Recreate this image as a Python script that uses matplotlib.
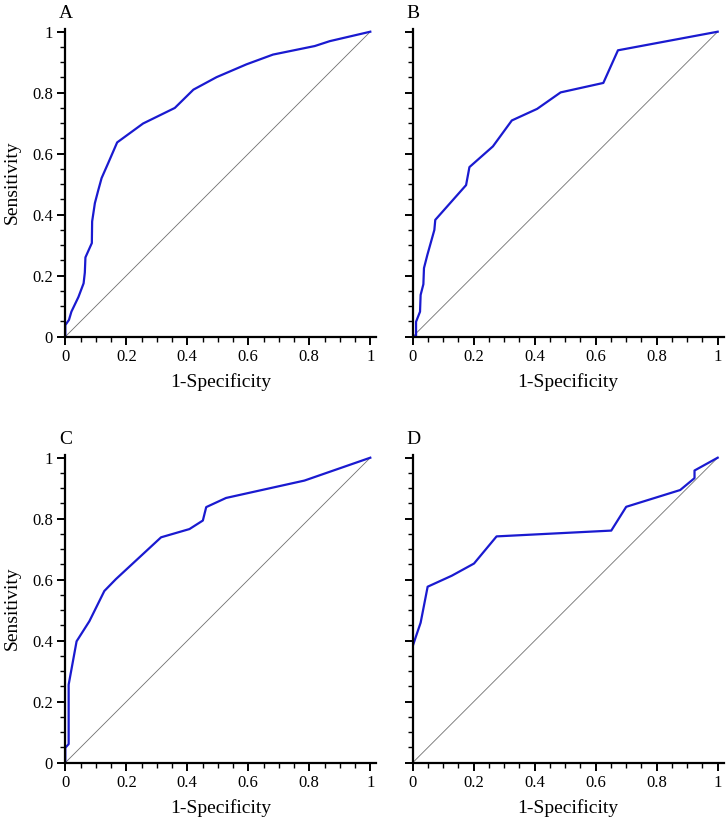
import numpy as np
import matplotlib
matplotlib.use("Agg")
import matplotlib.pyplot as plt
from matplotlib.ticker import MultipleLocator, FormatStrFormatter

plt.rcParams['font.family'] = ['Liberation Serif', 'DejaVu Serif']

# ROC curves: (1-specificity, sensitivity)
a_fpr = [0, 0, 0.012, 0.02, 0.043, 0.06, 0.064, 0.066, 0.087, 0.088, 0.097, 0.108,
         0.119, 0.141, 0.17, 0.255, 0.359, 0.42, 0.496, 0.594, 0.681, 0.818, 0.867, 1]
a_tpr = [0, 0.038, 0.055, 0.082, 0.13, 0.175, 0.21, 0.26, 0.307, 0.378, 0.438, 0.48,
         0.52, 0.57, 0.637, 0.699, 0.75, 0.81, 0.851, 0.893, 0.925, 0.953, 0.969, 1]

b_fpr = [0, 0.011, 0.011, 0.024, 0.026, 0.035, 0.037, 0.048, 0.071, 0.074, 0.175,
         0.186, 0.263, 0.325, 0.408, 0.485, 0.625, 0.673, 1]
b_tpr = [0, 0.002, 0.049, 0.082, 0.137, 0.172, 0.225, 0.268, 0.35, 0.383, 0.497,
         0.556, 0.624, 0.709, 0.747, 0.801, 0.832, 0.939, 1]

c_fpr = [0, 0, 0.011, 0.011, 0.037, 0.079, 0.128, 0.166, 0.314, 0.407, 0.451, 0.462,
         0.527, 0.784, 1]
c_tpr = [0, 0.049, 0.061, 0.256, 0.398, 0.464, 0.563, 0.602, 0.739, 0.766, 0.794, 0.838,
         0.868, 0.925, 1]

d_fpr = [0, 0, 0.011, 0.026, 0.049, 0.128, 0.201, 0.275, 0.651, 0.7, 0.877, 0.924, 0.924, 1]
d_tpr = [0, 0.382, 0.415, 0.459, 0.577, 0.613, 0.653, 0.742, 0.761, 0.839, 0.894, 0.933, 0.958, 1]

panels = [("A", a_fpr, a_tpr), ("B", b_fpr, b_tpr), ("C", c_fpr, c_tpr), ("D", d_fpr, d_tpr)]

W, H = 728, 824
fig = plt.figure(figsize=(W / 100, H / 100), dpi=100)

# axes origin (pixels from left / top) and size of the unit square
origins = [(65.3, 336.7), (412.7, 336.7), (65.3, 762.7), (412.7, 762.7)]
unit = 305.0
xmax, ymax = 1.02, 1.01

for (name, fpr, tpr), (x0, y0) in zip(panels, origins):
    w = unit * xmax
    h = unit * ymax
    ax = fig.add_axes([x0 / W, (H - y0) / H, w / W, h / H])
    ax.plot([0, 1], [0, 1], color="#707070", lw=0.6)
    ax.plot(fpr, tpr, color="#1a1ad0", lw=1.6, solid_joinstyle="round")
    ax.set_xlim(0, xmax)
    ax.set_ylim(0, ymax)
    for s in ["top", "right"]:
        ax.spines[s].set_visible(False)
    for s in ["left", "bottom"]:
        ax.spines[s].set_linewidth(1.6)
    ax.xaxis.set_major_locator(MultipleLocator(0.2))
    ax.yaxis.set_major_locator(MultipleLocator(0.2))
    ax.xaxis.set_minor_locator(MultipleLocator(0.05))
    ax.yaxis.set_minor_locator(MultipleLocator(0.05))
    ax.xaxis.set_major_formatter(FormatStrFormatter("%g"))
    ax.yaxis.set_major_formatter(FormatStrFormatter("%g"))
    ax.tick_params(which="major", direction="out", length=6, width=1.4, labelsize=12, pad=3)
    ax.tick_params(which="minor", direction="out", length=3.6, width=1.0)
    if name in ("B", "D"):
        ax.tick_params(axis="y", which="both", labelleft=False)
    else:
        ax.set_ylabel("Sensitivity", fontsize=14, labelpad=8)
    ax.set_xlabel("1-Specificity", fontsize=14, labelpad=6)
    ax.text(-0.02, 1.034, name, transform=ax.transAxes, fontsize=14,
            ha="left", va="baseline")

fig.savefig("out.png", dpi=100)
